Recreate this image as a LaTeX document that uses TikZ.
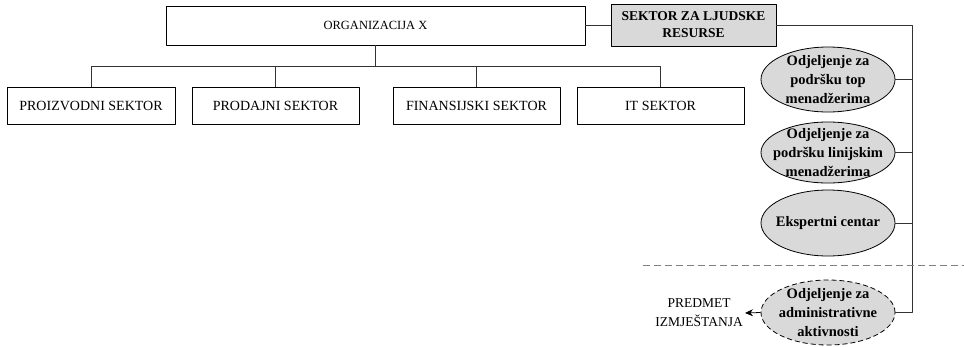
\documentclass[tikz,border=0pt]{standalone}
\usepackage{fontspec}
\setmainfont{Liberation Serif}
\usetikzlibrary{shapes.geometric,positioning,arrows.meta}
\begin{document}
\begin{tikzpicture}[x=1pt,y=-1pt,line join=round,>={Stealth[length=8pt,width=7pt]},
	sector/.style={draw,line width=0.8pt,minimum width=167pt,minimum height=37pt,inner sep=0pt,font=\fontsize{14}{16}\selectfont},
	hrbox/.style={draw,line width=0.8pt,fill=black!15,minimum width=165pt,minimum height=42pt,inner sep=0pt,align=center,font=\bfseries\fontsize{13.5}{17}\selectfont},
	dept/.style={draw,ellipse,line width=0.8pt,fill=black!15,minimum width=134pt,inner sep=0pt},
	depttext/.style={align=center,inner sep=0pt,font=\bfseries\fontsize{14.5}{19}\selectfont},
	link/.style={draw=black!80,line width=0.6pt}]
			\useasboundingbox (0,0) rectangle (964,346);
			
			% Top level
			\node[sector,minimum width=419pt,minimum height=39pt,font=\fontsize{12.5}{15}\selectfont] (org) at (375.5,25.5) {ORGANIZACIJA X};
			\node[hrbox] (hr) at (693.5,25) {SEKTOR ZA LJUDSKE\\RESURSE};
			
			% Sectors
			\node[sector,minimum width=168pt] (proiz) at (91,105.5) {PROIZVODNI SEKTOR};
			\node[sector] (prod) at (275.5,105.5) {PRODAJNI SEKTOR};
			\node[sector] (fin) at (476.5,105.5) {FINANSIJSKI SEKTOR};
			\node[sector] (it) at (660.5,105.5) {IT SEKTOR};
			
			% HR departments
			\node[dept,minimum height=65pt,label={[depttext]center:{Odjeljenje za\\podršku top\\menadžerima}}] (top) at (828,79.5) {};
			\node[dept,minimum height=61pt,label={[depttext]center:{Odjeljenje za\\podršku linijskim\\menadžerima}}] (line) at (828,152.5) {};
			\node[dept,minimum height=66pt,label={[depttext]center:{Ekspertni centar}}] (exp) at (828,223) {};
			\node[dept,dashed,dash pattern=on 5pt off 3pt,minimum height=65pt,label={[depttext]center:{Odjeljenje za\\administrativne\\aktivnosti}}] (adm) at (828,312.5) {};
			\node[anchor=east,inner sep=0pt,align=center,font=\fontsize{13.5}{19}\selectfont] (move) at (743,313) {PREDMET\\IZMJEŠTANJA};
			
			% Connectors
			\coordinate (bus) at (376,66);
			\coordinate (spine) at (912,26);
			\draw[link] (org.east) -- (org.east -| hr.west);
			\draw[link] (org.south) -- (org.south |- bus);
			\draw[link] (proiz.north |- bus) -- (it.north |- bus);
			\foreach \n in {proiz,prod,fin,it}
				\draw[link] (\n.north) -- (\n.north |- bus);
			\draw[link] (hr.east) -| (spine |- adm.east) -- (adm.east);
			\foreach \n in {top,line,exp}
				\draw[link] (\n.east) -- (\n.east -| spine);
			\draw[link,black,line width=0.8pt,->] (adm.west) -- ([xshift=2pt]move.east);
			
			% Separator
			\coordinate (sepL) at (643,265);
			\coordinate (sepR) at (964,265);
			\draw[black!50,line width=0.7pt,dash pattern=on 7pt off 4pt] (sepL) -- (sepR);
		\end{tikzpicture}
\end{document}
